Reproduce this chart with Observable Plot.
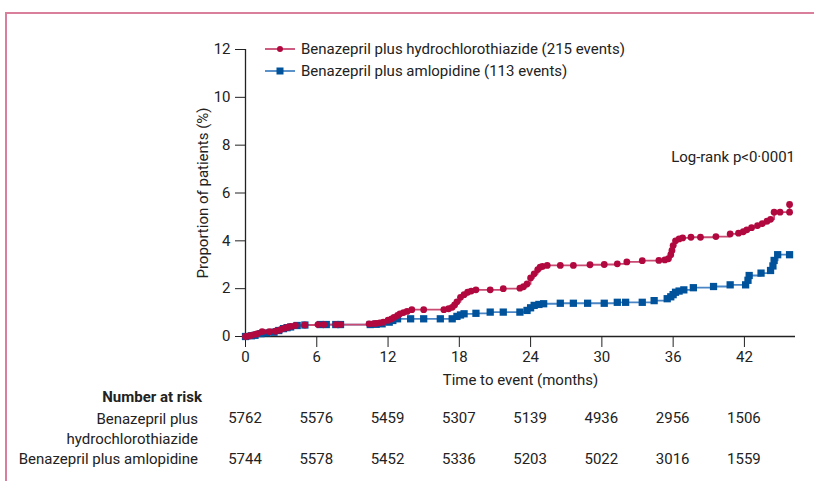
<!DOCTYPE html>
<html>
<head>
<meta charset="utf-8">
<script src="https://cdn.jsdelivr.net/npm/d3@7"></script>
<script src="https://cdn.jsdelivr.net/npm/@observablehq/plot@0.6"></script>
<style>
  html, body { margin: 0; padding: 0; background: #fff; }
  #wrap { position: relative; width: 814px; height: 481px; overflow: hidden; font-family: Roboto, sans-serif; color: #222; }
  #frame { position: absolute; left: 5px; top: 12px; width: 900px; height: 600px; border-top: 2px solid #d97f9b; border-left: 2px solid #d97f9b; }
  #plot { position: absolute; left: 0; top: 0; }
  .abs { position: absolute; white-space: nowrap; font-size: 15px; line-height: 18px; }
  .num { transform: translateX(-50%); }
  .right { text-align: right; }
</style>
</head>
<body>
<div id="wrap">
  <div id="frame"></div>
</div>
<script>
// Benazepril plus hydrochlorothiazide (red, circles)
const hctzMonths = [0,0.3,0.5,0.8,1.0,1.4,2.0,2.5,2.8,3.0,3.3,3.5,3.8,4.2,5.0,6.1,6.6,7.6,8.0,10.4,10.8,11.0,11.3,11.6,12.0,12.3,12.5,12.8,13.0,13.3,13.6,14.0,15.0,16.7,17.1,17.4,17.6,17.8,18.1,18.4,18.7,19.0,19.4,20.6,21.7,23.1,23.4,23.7,24.0,24.3,24.6,24.8,25.0,25.4,26.5,27.6,29.0,30.2,31.3,32.1,33.4,34.8,35.3,35.6,35.8,35.9,36.0,36.2,36.5,36.8,37.5,38.3,39.6,40.8,41.5,41.9,42.2,42.6,43.1,43.5,43.9,44.2,44.5,45.0,45.8,45.8];
const hctzPct    = [0,0.02,0.05,0.09,0.12,0.2,0.2,0.22,0.26,0.3,0.35,0.38,0.42,0.46,0.48,0.5,0.5,0.5,0.5,0.53,0.54,0.55,0.57,0.6,0.68,0.74,0.8,0.88,0.95,1.0,1.05,1.12,1.12,1.12,1.16,1.22,1.32,1.45,1.64,1.75,1.85,1.9,1.95,1.95,2.0,2.02,2.08,2.2,2.45,2.62,2.8,2.9,2.93,2.97,2.97,2.97,3.0,3.01,3.04,3.12,3.17,3.18,3.2,3.25,3.42,3.6,3.8,4.0,4.08,4.12,4.15,4.15,4.18,4.29,4.32,4.38,4.46,4.55,4.64,4.72,4.82,4.9,5.2,5.2,5.2,5.52];
// Benazepril plus amlopidine (blue, squares)
const amlMonths = [0,0.5,0.8,1.3,1.8,2.4,2.8,3.2,3.5,3.8,4.35,5.0,6.3,6.8,7.6,8.0,10.5,11.0,11.5,12.1,12.4,12.8,13.9,15.0,16.4,17.4,17.8,18.1,18.4,19.4,20.6,21.7,23.1,23.7,24.0,24.3,24.7,25.1,26.5,27.6,28.8,30.2,31.3,32.0,33.4,34.4,35.5,35.8,36.0,36.2,36.5,36.9,37.7,39.4,40.8,42.1,42.3,42.4,43.4,44.2,44.4,44.5,44.8,45.8];
const amlPct    = [0,0.03,0.05,0.12,0.15,0.18,0.25,0.33,0.37,0.4,0.46,0.48,0.5,0.5,0.5,0.5,0.5,0.51,0.53,0.6,0.67,0.74,0.74,0.74,0.74,0.74,0.84,0.9,0.95,0.97,1.02,1.02,1.02,1.09,1.2,1.3,1.34,1.37,1.39,1.39,1.39,1.39,1.43,1.43,1.43,1.5,1.58,1.66,1.75,1.85,1.9,1.95,2.04,2.09,2.16,2.16,2.35,2.55,2.65,2.76,2.95,3.18,3.42,3.42];

const seriesNames = ["Benazepril plus hydrochlorothiazide (215 events)", "Benazepril plus amlopidine (113 events)"];
const xTicks = [0,6,12,18,24,30,36,42];
const yTicks = [0,2,4,6,8,10,12];
const riskLabels = ["Benazepril plus\nhydrochlorothiazide", "Benazepril plus amlopidine"];
const riskHctz = [5762,5576,5459,5307,5139,4936,2956,1506];
const riskAml  = [5744,5578,5452,5336,5203,5022,3016,1559];

const RED = "#b1093f", RED_LINE = "#c94a72";
const BLUE = "#00529b", BLUE_LINE = "#4a86c5";

const hctz = hctzMonths.map((m, i) => ({m, p: hctzPct[i]}));
const aml = amlMonths.map((m, i) => ({m, p: amlPct[i]}));

const plot = Plot.plot({
  width: 814,
  height: 392,
  marginLeft: 245,
  marginRight: 19,
  marginTop: 49,
  marginBottom: 56,
  style: {fontFamily: 'Roboto, sans-serif', fontSize: "15px", color: "#222", background: "transparent"},
  x: {domain: [0, 46.3]},
  y: {domain: [0, 12]},
  marks: [
    Plot.axisY({ticks: yTicks, tickSize: 10, tickPadding: 5, label: "Proportion of patients (%)", labelAnchor: "center", labelArrow: "none", labelOffset: 48, fontSize: 15}),
    Plot.axisX({ticks: xTicks, tickSize: 11, tickPadding: 4, label: "Time to event (months)", labelAnchor: "center", labelArrow: "none", labelOffset: 48, fontSize: 15}),
    Plot.ruleX([0], {stroke: "#222", strokeWidth: 1.3}),
    Plot.ruleY([0], {stroke: "#222", strokeWidth: 1.3}),
    Plot.line(aml, {x: "m", y: "p", curve: "step-after", stroke: BLUE_LINE, strokeWidth: 1.8}),
    Plot.line(hctz, {x: "m", y: "p", curve: "step-after", stroke: RED_LINE, strokeWidth: 1.8}),
    Plot.dot(aml, {x: "m", y: "p", symbol: "square", r: 4.1, fill: BLUE, stroke: "none"}),
    Plot.dot(hctz, {x: "m", y: "p", r: 3.4, fill: RED, stroke: "none"})
  ]
});
plot.id = "plot";
const wrap = document.getElementById("wrap");
wrap.appendChild(plot);

const x = plot.scale("x");

function add(html, style, cls) {
  const d = document.createElement("div");
  d.className = "abs " + (cls || "");
  d.innerHTML = html;
  Object.assign(d.style, style);
  wrap.appendChild(d);
  return d;
}

// Legend
const legendItems = [
  {name: seriesNames[0], line: RED_LINE, fill: RED, sym: "circle"},
  {name: seriesNames[1], line: BLUE_LINE, fill: BLUE, sym: "square"}
];
legendItems.forEach((it, i) => {
  const marker = it.sym === "circle"
    ? `<circle cx="15" cy="9" r="3" fill="${it.fill}"/>`
    : `<rect x="11.5" y="5.5" width="7" height="7" fill="${it.fill}"/>`;
  add(`<svg width="30" height="18" style="vertical-align:top"><line x1="0" x2="30" y1="9" y2="9" stroke="${it.line}" stroke-width="1.8"/>${marker}</svg><span style="margin-left:6px">${it.name}</span>`,
      {left: "265px", top: (40 + i * 22) + "px"});
});

// Log-rank annotation
add("Log-rank p&lt;0·0001", {right: "19px", top: "148px"}, "right");

// Number at risk table
add("<b>Number at risk</b>", {right: (814 - 202) + "px", top: "388px"}, "right");
add(riskLabels[0].replace("\n", "<br>"), {right: (814 - 198) + "px", top: "409px", lineHeight: "20px"}, "right");
add(riskLabels[1], {right: (814 - 198) + "px", top: "450px"}, "right");
xTicks.forEach((t, i) => {
  add(String(riskHctz[i]), {left: x.apply(t) + "px", top: "409px"}, "num");
  add(String(riskAml[i]), {left: x.apply(t) + "px", top: "450px"}, "num");
});
</script>
</body>
</html>
